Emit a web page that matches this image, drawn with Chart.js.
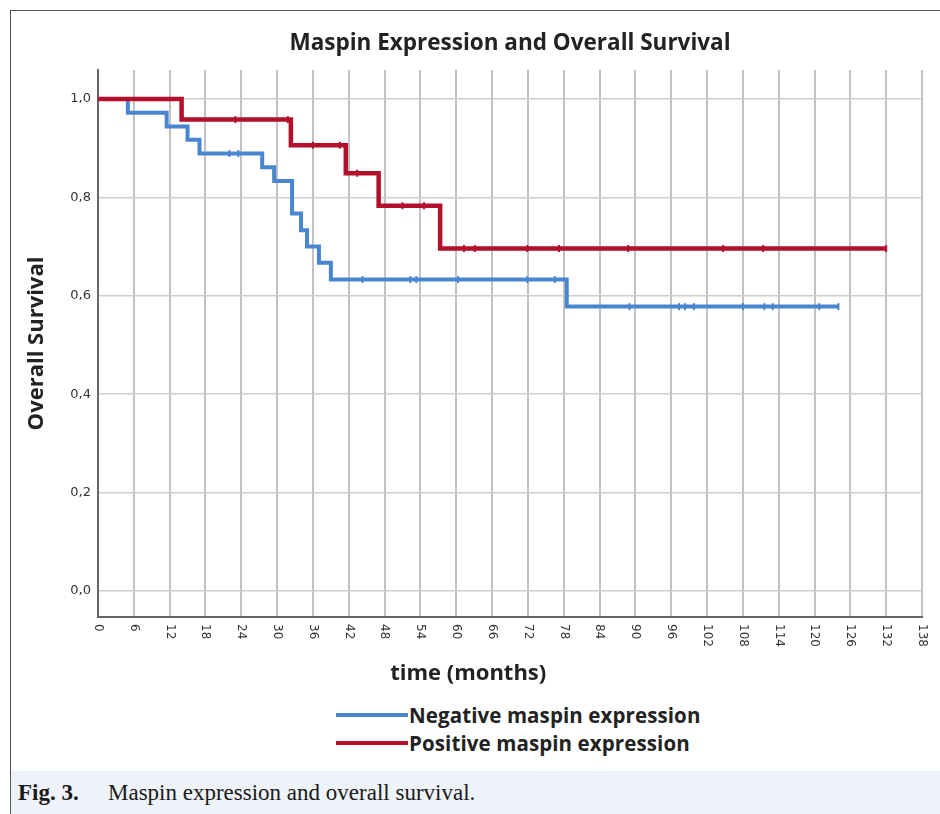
<!DOCTYPE html>
<html>
<head>
<meta charset="utf-8">
<script src="https://cdn.jsdelivr.net/npm/chart.js@4/dist/chart.umd.min.js"></script>
<style>
  html, body { margin: 0; padding: 0; background: #fff; }
  body { width: 940px; height: 814px; position: relative; overflow: hidden; }
  #frame {
    position: absolute; left: 10px; top: 10px; width: 930px; height: 804px;
    border-top: 1.5px solid #555; border-left: 1.5px solid #555;
  }
  #plot { position: absolute; left: 0; top: 0; width: 930px; height: 690px; }
  #legend {
    position: absolute; left: 325px; top: 690px;
    font-family: "Open Sans", sans-serif; font-weight: 700; font-size: 20.5px; color: #222;
    letter-spacing: 0.1px;
  }
  .item { display: flex; align-items: center; height: 28px; }
  .swatch { width: 72px; height: 4px; margin-right: 1px; }
  #caption {
    position: absolute; left: 0; top: 760px; width: 930px; height: 44px;
    background: #eef2f9; font-family: "Liberation Serif", serif; font-size: 23px; color: #1a1a1a;
    line-height: 44px;
  }
  #caption b { display: inline-block; margin-left: 7px; width: 90px; }
</style>
</head>
<body>
<div id="frame">
  <div id="plot"><canvas id="chart"></canvas></div>
  <div id="legend"></div>
  <div id="caption"><b>Fig. 3.</b>Maspin expression and overall survival.</div>
</div>
<script>
// Kaplan-Meier steps (months, survival)
const negTimes = [0, 5, 11.5, 15, 17, 27.5, 29.5, 32.5, 34, 35, 37, 39, 78.5, 124];
const negSurv  = [1, 0.972, 0.944, 0.917, 0.889, 0.861, 0.833, 0.767, 0.733, 0.700, 0.667, 0.633, 0.578, 0.578];
const negCensor = [22, 23.5, 44.3, 52.3, 53.3, 60.3, 71.9, 76.5, 89, 97.3, 98.3, 99.8, 108, 111.6, 113, 120.8, 124];

const posTimes = [0, 14, 32.3, 41.5, 47, 57.3, 132];
const posSurv  = [1, 0.958, 0.906, 0.849, 0.783, 0.696, 0.696];
const posCensor = [23, 31.8, 36, 40.5, 43.4, 51, 54.6, 61.3, 63.1, 71.9, 77.2, 88.8, 104.7, 111.4, 132];

const seriesLabels = ['Negative maspin expression', 'Positive maspin expression'];
const seriesColors = ['#4a86cf', '#b3102c'];

const xTickValues = [0, 6, 12, 18, 24, 30, 36, 42, 48, 54, 60, 66, 72, 78, 84, 90, 96, 102, 108, 114, 120, 126, 132, 138];
const yTickValues = [0, 0.2, 0.4, 0.6, 0.8, 1.0];
const xAxisTitle = 'time (months)';

// survival level at time t on a step curve
function survAt(times, surv, t) {
    let s = surv[0];
    for (let i = 0; i < times.length; i++) {
        if (times[i] <= t) s = surv[i];
    }
    return s;
}

const toPoints = (xs, ys) => xs.map((x, i) => ({ x: x, y: ys[i] }));
const censorPoints = (c, times, surv) => c.map(t => ({ x: t, y: survAt(times, surv, t) }));

// x tick labels turned clockwise, as in the SPSS output, plus the x title
// (which sits a bit left of the plot centre in the original)
const xAxisDecor = {
    id: 'xAxisDecor',
    afterDraw(chart) {
        const xs = chart.scales.x;
        const ctx = chart.ctx;
        ctx.save();
        ctx.font = '12px "DejaVu Sans"';
        ctx.fillStyle = '#333';
        ctx.textAlign = 'left';
        ctx.textBaseline = 'middle';
        xs.ticks.forEach(t => {
            const x = xs.getPixelForValue(t.value);
            ctx.save();
            ctx.translate(x, xs.top + 7);
            ctx.rotate(Math.PI / 2);
            ctx.fillText(String(t.value), 0, 0);
            ctx.restore();
        });
        ctx.font = '700 22px "Open Sans"';
        ctx.fillStyle = '#222';
        ctx.textAlign = 'center';
        ctx.fillText(xAxisTitle, xs.getPixelForValue(62), xs.top + 57);
        ctx.restore();
    }
};

const censorStyle = color => ({
    type: 'scatter',
    pointStyle: 'line',
    rotation: 90,
    pointRadius: 3.5,
    pointBorderWidth: 2,
    borderColor: color,
    backgroundColor: color,
    showLine: false,
    order: 0
});

const ctx = document.getElementById('chart').getContext('2d');
new Chart(ctx, {
    type: 'line',
    data: {
        datasets: [
            {
                label: seriesLabels[1],
                data: toPoints(posTimes, posSurv),
                borderColor: seriesColors[1],
                borderWidth: 4.5,
                stepped: true,
                pointRadius: 0,
                order: 1
            },
            {
                label: seriesLabels[0],
                data: toPoints(negTimes, negSurv),
                borderColor: seriesColors[0],
                borderWidth: 4,
                stepped: true,
                pointRadius: 0,
                order: 2
            },
            Object.assign({ label: 'pos censored', data: censorPoints(posCensor, posTimes, posSurv) }, censorStyle(seriesColors[1])),
            Object.assign({ label: 'neg censored', data: censorPoints(negCensor, negTimes, negSurv) }, censorStyle(seriesColors[0]))
        ]
    },
    options: {
        responsive: true,
        maintainAspectRatio: false,
        animation: false,
        layout: { padding: { left: 0, right: 19, top: 0, bottom: 0 } },
        plugins: {
            legend: { display: false },
            tooltip: { enabled: false },
            title: {
                display: true,
                fullSize: false,
                text: 'Maspin Expression and Overall Survival',
                color: '#222',
                font: { family: 'Open Sans', size: 22.5, weight: '700' },
                padding: { top: 19, bottom: 13 },
                align: 'center'
            }
        },
        scales: {
            x: {
                type: 'linear',
                min: 0,
                max: 138,
                afterBuildTicks: scale => { scale.ticks = xTickValues.map(v => ({ value: v })); },
                afterFit: scale => { scale.height = 84; },
                ticks: { display: false },
                grid: { color: '#c2c2c2', lineWidth: 2, drawTicks: false },
                border: { display: true, color: '#666', width: 2 }
            },
            y: {
                type: 'linear',
                min: -0.0527,
                max: 1.0588,
                afterBuildTicks: scale => { scale.ticks = yTickValues.map(v => ({ value: v })); },
                afterFit: scale => { scale.width = 87; },
                ticks: {
                    padding: 7,
                    color: '#333',
                    font: { family: 'DejaVu Sans', size: 13 },
                    callback: v => v.toFixed(1).replace('.', ',')
                },
                grid: { color: '#cdcdcd', lineWidth: 1.5, drawTicks: false },
                border: { display: true, color: '#666', width: 2 },
                title: {
                    display: true,
                    text: 'Overall Survival',
                    color: '#222',
                    font: { family: 'Open Sans', size: 22, weight: '700' },
                    padding: { top: 13, bottom: 0 }
                }
            }
        }
    },
    plugins: [xAxisDecor]
});

// legend below the plot, one series per row
const legend = document.getElementById('legend');
seriesLabels.forEach((lab, i) => {
    const row = document.createElement('div');
    row.className = 'item';
    const sw = document.createElement('span');
    sw.className = 'swatch';
    sw.style.background = seriesColors[i];
    const txt = document.createElement('span');
    txt.textContent = lab;
    row.appendChild(sw);
    row.appendChild(txt);
    legend.appendChild(row);
});
</script>
</body>
</html>
